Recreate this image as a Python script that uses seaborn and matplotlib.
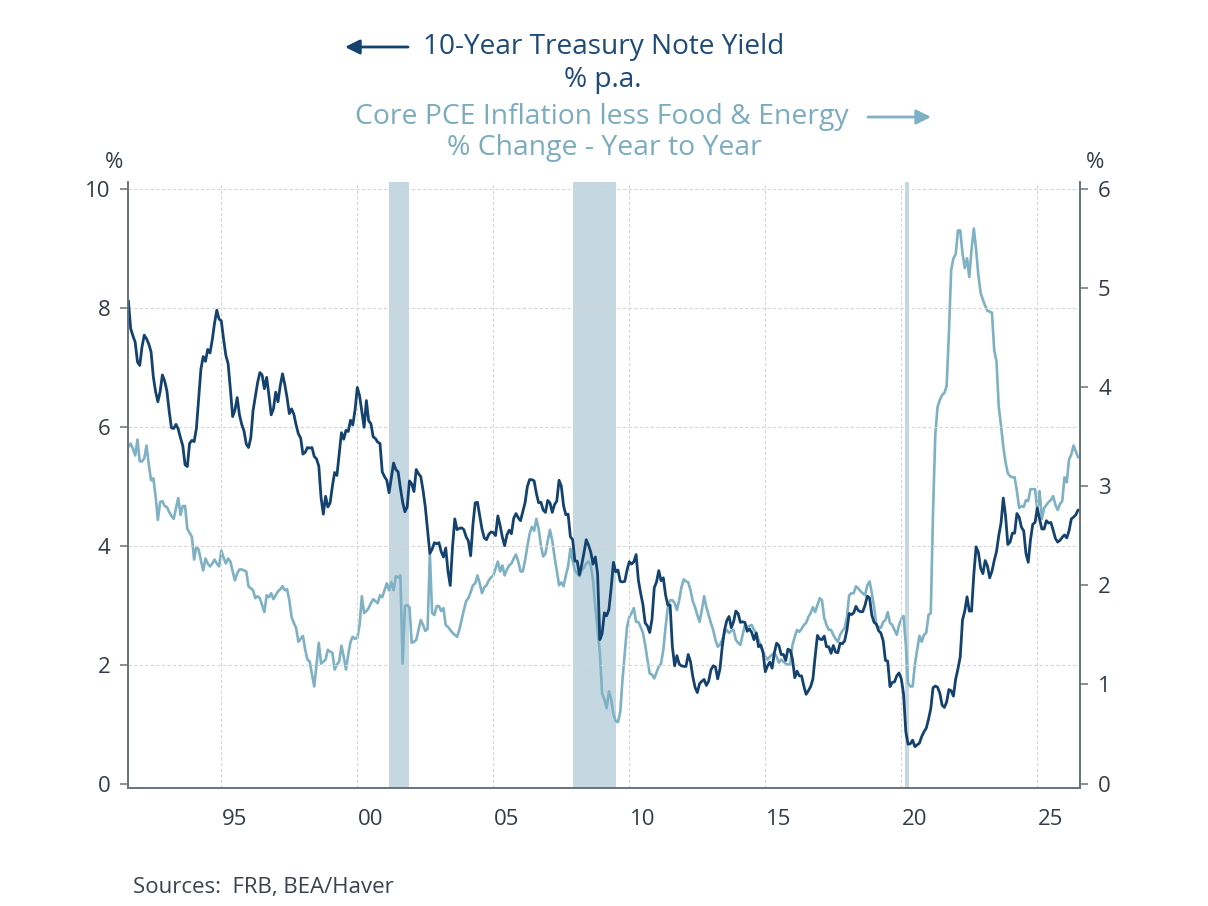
import pandas as pd
import matplotlib
matplotlib.use("Agg")
import matplotlib.pyplot as plt
import seaborn as sns

# monthly observations, Aug 1991 .. Jul 2026
start_month = "1991-08-01"
end_month = "2026-07-01"

# 10-Year Treasury Note Yield, % p.a. (left axis)
yield_10y = [
    8.12, 7.65, 7.53, 7.42, 7.09,                                        # 1991
    7.03, 7.34, 7.54, 7.48, 7.39, 7.26, 6.84, 6.59, 6.42, 6.59, 6.87, 6.77,  # 1992
    6.60, 6.26, 5.98, 5.97, 6.04, 5.96, 5.81, 5.68, 5.36, 5.33, 5.72, 5.77,  # 1993
    5.75, 5.97, 6.48, 6.97, 7.18, 7.10, 7.30, 7.24, 7.46, 7.74, 7.96, 7.81,  # 1994
    7.78, 7.47, 7.20, 7.06, 6.63, 6.17, 6.28, 6.49, 6.20, 6.04, 5.93, 5.71,  # 1995
    5.65, 5.81, 6.27, 6.51, 6.74, 6.91, 6.87, 6.64, 6.83, 6.53, 6.20, 6.30,  # 1996
    6.58, 6.42, 6.69, 6.89, 6.71, 6.49, 6.22, 6.30, 6.21, 6.03, 5.88, 5.81,  # 1997
    5.54, 5.57, 5.65, 5.64, 5.65, 5.50, 5.46, 5.34, 4.81, 4.53, 4.83, 4.65,  # 1998
    4.72, 5.00, 5.23, 5.18, 5.54, 5.90, 5.79, 5.94, 5.92, 6.11, 6.03, 6.28,  # 1999
    6.66, 6.52, 6.26, 5.99, 6.44, 6.10, 6.05, 5.83, 5.80, 5.74, 5.72, 5.24,  # 2000
    5.16, 5.10, 4.89, 5.14, 5.39, 5.28, 5.24, 4.97, 4.73, 4.57, 4.65, 5.09,  # 2001
    5.04, 4.91, 5.28, 5.21, 5.16, 4.93, 4.65, 4.26, 3.87, 3.94, 4.05, 4.03,  # 2002
    4.05, 3.90, 3.81, 3.96, 3.57, 3.33, 3.98, 4.45, 4.27, 4.29, 4.30, 4.27,  # 2003
    4.15, 4.08, 3.83, 4.35, 4.72, 4.73, 4.50, 4.28, 4.13, 4.10, 4.19, 4.23,  # 2004
    4.22, 4.17, 4.50, 4.34, 4.14, 4.00, 4.18, 4.26, 4.20, 4.46, 4.54, 4.47,  # 2005
    4.42, 4.57, 4.72, 4.99, 5.11, 5.11, 5.09, 4.88, 4.72, 4.73, 4.60, 4.56,  # 2006
    4.76, 4.72, 4.56, 4.69, 4.75, 5.10, 5.00, 4.67, 4.52, 4.53, 4.15, 4.10,  # 2007
    3.74, 3.74, 3.51, 3.68, 3.88, 4.10, 4.01, 3.89, 3.69, 3.81, 3.53, 2.42,  # 2008
    2.52, 2.87, 2.82, 2.93, 3.29, 3.72, 3.56, 3.59, 3.40, 3.39, 3.40, 3.59,  # 2009
    3.73, 3.69, 3.73, 3.85, 3.42, 3.20, 3.01, 2.70, 2.65, 2.54, 2.76, 3.29,  # 2010
    3.39, 3.58, 3.41, 3.46, 3.17, 3.00, 3.00, 2.30, 1.98, 2.15, 2.01, 1.98,  # 2011
    1.97, 1.97, 2.17, 2.05, 1.80, 1.62, 1.53, 1.68, 1.72, 1.75, 1.65, 1.72,  # 2012
    1.91, 1.98, 1.96, 1.76, 1.93, 2.30, 2.58, 2.74, 2.81, 2.62, 2.72, 2.90,  # 2013
    2.86, 2.71, 2.72, 2.71, 2.56, 2.60, 2.54, 2.42, 2.53, 2.30, 2.33, 2.21,  # 2014
    1.88, 1.98, 2.04, 1.94, 2.20, 2.36, 2.32, 2.17, 2.17, 2.07, 2.26, 2.24,  # 2015
    2.09, 1.78, 1.89, 1.81, 1.81, 1.64, 1.50, 1.56, 1.63, 1.76, 2.14, 2.49,  # 2016
    2.43, 2.42, 2.48, 2.30, 2.30, 2.19, 2.32, 2.21, 2.20, 2.36, 2.35, 2.40,  # 2017
    2.58, 2.86, 2.84, 2.87, 2.98, 2.91, 2.89, 2.89, 3.00, 3.15, 3.12, 2.83,  # 2018
    2.71, 2.68, 2.57, 2.53, 2.40, 2.07, 2.06, 1.63, 1.70, 1.71, 1.81, 1.86,  # 2019
    1.76, 1.50, 0.87, 0.66, 0.67, 0.73, 0.62, 0.65, 0.68, 0.79, 0.87, 0.93,  # 2020
    1.08, 1.26, 1.61, 1.64, 1.62, 1.52, 1.32, 1.28, 1.37, 1.58, 1.56, 1.47,  # 2021
    1.76, 1.93, 2.13, 2.75, 2.90, 3.14, 2.90, 2.90, 3.52, 3.98, 3.89, 3.62,  # 2022
    3.53, 3.75, 3.66, 3.46, 3.57, 3.75, 3.90, 4.17, 4.38, 4.80, 4.50, 4.02,  # 2023
    4.06, 4.21, 4.21, 4.54, 4.48, 4.31, 4.25, 3.87, 3.72, 4.10, 4.36, 4.39,  # 2024
    4.63, 4.45, 4.28, 4.28, 4.42, 4.38, 4.39, 4.26, 4.12, 4.06, 4.09, 4.14,  # 2025
    4.18, 4.13, 4.25, 4.45, 4.48, 4.52, 4.60,                            # 2026
]

# Core PCE less food & energy, % change year to year (right axis)
core_pce = [
    3.40, 3.43, 3.38, 3.31, 3.47,                                        # 1991
    3.25, 3.25, 3.28, 3.41, 3.22, 3.06, 3.08, 2.90, 2.66, 2.84, 2.85, 2.80,  # 1992
    2.79, 2.74, 2.70, 2.67, 2.78, 2.88, 2.71, 2.80, 2.80, 2.57, 2.53, 2.49,  # 1993
    2.26, 2.39, 2.36, 2.25, 2.15, 2.27, 2.22, 2.19, 2.22, 2.26, 2.22, 2.19,  # 1994
    2.35, 2.28, 2.22, 2.27, 2.24, 2.14, 2.05, 2.12, 2.16, 2.16, 2.15, 2.14,  # 1995
    1.99, 1.97, 1.95, 1.87, 1.89, 1.87, 1.80, 1.73, 1.90, 1.88, 1.92, 1.86,  # 1996
    1.90, 1.94, 1.96, 1.99, 1.95, 1.96, 1.85, 1.68, 1.62, 1.57, 1.43, 1.46,  # 1997
    1.49, 1.35, 1.25, 1.23, 1.10, 0.98, 1.20, 1.42, 1.21, 1.23, 1.25, 1.35,  # 1998
    1.33, 1.32, 1.15, 1.20, 1.23, 1.39, 1.28, 1.15, 1.30, 1.43, 1.48, 1.46,  # 1999
    1.47, 1.60, 1.89, 1.72, 1.74, 1.77, 1.82, 1.86, 1.84, 1.82, 1.90, 1.88,  # 2000
    1.95, 2.02, 1.95, 2.03, 1.95, 2.09, 2.08, 2.10, 1.21, 1.79, 1.80, 1.78,  # 2001
    1.42, 1.43, 1.45, 1.55, 1.65, 1.60, 1.54, 1.56, 2.32, 1.72, 1.70, 1.79,  # 2002
    1.79, 1.74, 1.77, 1.60, 1.58, 1.55, 1.52, 1.50, 1.48, 1.55, 1.65, 1.75,  # 2003
    1.84, 1.87, 1.93, 2.00, 2.02, 2.10, 2.02, 1.92, 1.98, 2.00, 2.05, 2.08,  # 2004
    2.10, 2.17, 2.24, 2.14, 2.20, 2.10, 2.16, 2.20, 2.22, 2.27, 2.31, 2.24,  # 2005
    2.14, 2.14, 2.25, 2.39, 2.52, 2.59, 2.55, 2.67, 2.57, 2.40, 2.29, 2.32,  # 2006
    2.45, 2.56, 2.45, 2.29, 2.15, 2.00, 2.03, 1.99, 2.10, 2.19, 2.37, 2.25,  # 2007
    2.15, 2.12, 2.09, 2.15, 2.18, 2.22, 2.24, 2.20, 2.05, 1.78, 1.55, 1.32,  # 2008
    0.91, 0.85, 0.76, 0.93, 0.85, 0.70, 0.63, 0.62, 0.72, 1.05, 1.32, 1.58,  # 2009
    1.68, 1.72, 1.77, 1.63, 1.63, 1.58, 1.52, 1.40, 1.25, 1.11, 1.10, 1.06,  # 2010
    1.12, 1.18, 1.21, 1.35, 1.58, 1.78, 1.85, 1.85, 1.82, 1.75, 1.85, 1.98,  # 2011
    2.06, 2.04, 2.03, 1.95, 1.84, 1.78, 1.70, 1.63, 1.75, 1.89, 1.78, 1.70,  # 2012
    1.62, 1.55, 1.45, 1.38, 1.40, 1.45, 1.52, 1.55, 1.52, 1.54, 1.55, 1.45,  # 2013
    1.42, 1.40, 1.50, 1.60, 1.58, 1.59, 1.60, 1.55, 1.52, 1.45, 1.38, 1.32,  # 2014
    1.28, 1.25, 1.28, 1.30, 1.32, 1.28, 1.22, 1.25, 1.23, 1.21, 1.20, 1.20,  # 2015
    1.40, 1.48, 1.55, 1.53, 1.56, 1.60, 1.62, 1.68, 1.72, 1.78, 1.73, 1.80,  # 2016
    1.87, 1.85, 1.67, 1.60, 1.55, 1.55, 1.50, 1.46, 1.43, 1.50, 1.54, 1.57,  # 2017
    1.68, 1.90, 1.92, 1.92, 1.99, 1.97, 1.94, 1.92, 1.90, 2.00, 2.04, 1.92,  # 2018
    1.78, 1.60, 1.58, 1.57, 1.63, 1.65, 1.73, 1.62, 1.60, 1.55, 1.50, 1.60,  # 2019
    1.66, 1.69, 1.40, 1.01, 0.98, 0.98, 1.20, 1.35, 1.49, 1.43, 1.50, 1.52,  # 2020
    1.70, 1.72, 2.74, 3.52, 3.80, 3.87, 3.92, 3.94, 4.01, 4.54, 5.18, 5.30,  # 2021
    5.34, 5.58, 5.58, 5.35, 5.20, 5.30, 5.11, 5.39, 5.60, 5.39, 5.13, 4.95,  # 2022
    4.88, 4.82, 4.77, 4.76, 4.75, 4.37, 4.26, 3.80, 3.61, 3.40, 3.24, 3.13,  # 2023
    3.10, 3.09, 3.09, 2.95, 2.78, 2.80, 2.79, 2.86, 2.85, 2.97, 2.97, 2.97,  # 2024
    2.76, 2.95, 2.67, 2.78, 2.81, 2.84, 2.86, 2.90, 2.81, 2.76, 2.82, 2.85,  # 2025
    3.09, 3.04, 3.27, 3.32, 3.41, 3.35, 3.29,                            # 2026
]

# recession shading
recession_start = ["2001-03-01", "2007-12-01", "2020-02-15"]
recession_end = ["2001-11-30", "2009-06-30", "2020-04-15"]

year_ticks = [1995, 2000, 2005, 2010, 2015, 2020, 2025]
year_labels = ["95", "00", "05", "10", "15", "20", "25"]
left_ticks = [0, 2, 4, 6, 8, 10]
right_ticks = [0, 1, 2, 3, 4, 5, 6]

dark = "#13426f"
light = "#7db1c3"
dark_txt = "#1e4b7a"
light_txt = "#7aacbf"
shade = "#c5d8e2"
axis_col = "#67717c"
tick_col = "#333c46"


def dec_year(d):
    d = pd.Timestamp(d)
    return d.year + (d.month - 1) / 12 + (d.day - 1) / 365.25


months = pd.date_range(start_month, end_month, freq="MS")
df = pd.DataFrame({
    "t": [dec_year(m) for m in months],
    "yield": yield_10y,
    "core": core_pce,
})

sns.set_theme(style="white")
plt.rcParams["font.family"] = ["Open Sans", "DejaVu Sans"]

W, H = 1208, 906
fig = plt.figure(figsize=(W / 100, H / 100), dpi=100)
ax = fig.add_axes([128.3 / W, 1 - 788.3 / H, (1080 - 128.3) / W, (788.3 - 181.7) / H])
ax2 = ax.twinx()
ax.set_zorder(2)
ax2.set_zorder(1)
ax.patch.set_visible(False)

for s, e in zip(recession_start, recession_end):
    ax2.axvspan(dec_year(s), dec_year(e), color=shade, lw=0, zorder=0)

sns.lineplot(data=df, x="t", y="core", ax=ax2, color=light, linewidth=1.9, zorder=2)
sns.lineplot(data=df, x="t", y="yield", ax=ax, color=dark, linewidth=2.0)

ax.set_xlim(1991.58, 2026.57)
ax.set_ylim(-0.08, 10.12)
ax2.set_ylim(-0.048, 6.072)

ax.set_xticks(year_ticks)
ax.set_xticklabels([])
ax.set_xticks([y + 0.5 for y in year_ticks], minor=True)
ax.set_xticklabels(year_labels, minor=True)
ax.tick_params(axis="x", which="major", direction="out", length=7, width=1.1, color=axis_col)
ax.tick_params(axis="x", which="minor", length=0, pad=15, labelsize=16, labelcolor=tick_col)

ax.set_yticks(left_ticks)
ax.set_yticklabels([str(v) for v in left_ticks])
ax.tick_params(axis="y", direction="out", length=6, width=1.1, color=axis_col,
               pad=7, labelsize=16, labelcolor=tick_col, left=True)
ax2.set_yticks(right_ticks)
ax2.set_yticklabels([str(v) for v in right_ticks])
ax2.tick_params(axis="y", direction="out", length=6, width=1.1, color=axis_col,
                pad=7, labelsize=16, labelcolor=tick_col, right=True)

ax.set_xlabel("")
ax.set_ylabel("")
ax2.set_ylabel("")

ax.grid(True, which="major", color="#d6d6d6", linestyle=(0, (3, 2)), linewidth=0.8)
ax.get_ygridlines()[0].set_visible(False)

for a in (ax, ax2):
    a.spines["top"].set_visible(False)
    for side in ("left", "bottom", "right"):
        a.spines[side].set_color(axis_col)
        a.spines[side].set_linewidth(1.2)

# titles
fig.text(604 / W, 1 - 47 / H, "10-Year Treasury Note Yield", ha="center", va="center",
         fontsize=20.2, color=dark_txt)
fig.text(603 / W, 1 - 80 / H, "% p.a.", ha="center", va="center", fontsize=20.2, color=dark_txt)
fig.text(602 / W, 1 - 117 / H, "Core PCE Inflation less Food & Energy", ha="center",
         va="center", fontsize=20.4, color=light_txt)
fig.text(604 / W, 1 - 148 / H, "% Change - Year to Year", ha="center", va="center",
         fontsize=20.4, color=light_txt)

ax.annotate("", xy=(345, H - 47), xytext=(408, H - 47), xycoords="figure pixels",
            textcoords="figure pixels",
            arrowprops=dict(arrowstyle="-|>", color=dark, lw=2, mutation_scale=22,
                            shrinkA=0, shrinkB=0))
ax.annotate("", xy=(931, H - 117), xytext=(868, H - 117), xycoords="figure pixels",
            textcoords="figure pixels",
            arrowprops=dict(arrowstyle="-|>", color=light, lw=2, mutation_scale=22,
                            shrinkA=0, shrinkB=0))

fig.text(114 / W, 1 - 163 / H, "%", ha="center", va="center", fontsize=16, color=tick_col)
fig.text(1095 / W, 1 - 163 / H, "%", ha="center", va="center", fontsize=16, color=tick_col)
fig.text(133 / W, 1 - 888 / H, "Sources:  FRB, BEA/Haver", ha="left", va="center",
         fontsize=16, color="#3a434d")

fig.savefig("out.png", dpi=100, facecolor="white")
